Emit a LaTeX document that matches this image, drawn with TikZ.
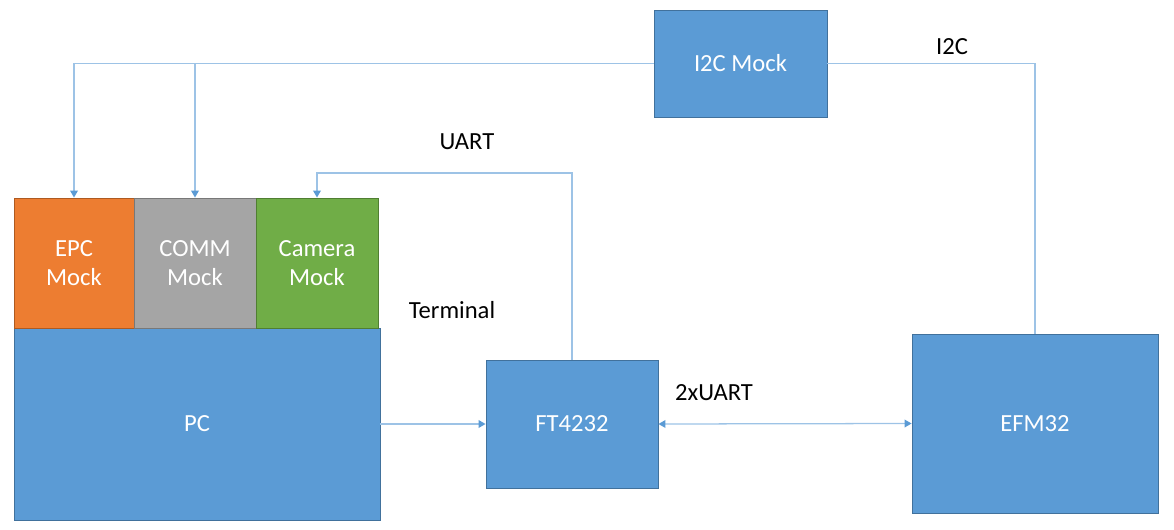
\documentclass[tikz,border=0pt]{standalone}
\usepackage{fontspec}
\setmainfont{Carlito}
\usetikzlibrary{arrows.meta}
\definecolor{boxblue}{HTML}{5B9BD5}
\definecolor{boxblueline}{HTML}{41719C}
\definecolor{boxorange}{HTML}{ED7D31}
\definecolor{boxorangeline}{HTML}{AE5A21}
\definecolor{boxgray}{HTML}{A5A5A5}
\definecolor{boxgrayline}{HTML}{787878}
\definecolor{boxgreen}{HTML}{70AD47}
\definecolor{boxgreenline}{HTML}{507E32}
\definecolor{wire}{HTML}{9DC3E6}

\begin{document}
\begin{tikzpicture}[x=0.025cm, y=-0.025cm,
  block/.style={rectangle, draw=boxblueline, fill=boxblue, line width=.6pt, text=white, align=center, inner sep=0pt, font=\fontsize{17.5}{20.6}\selectfont},
  conn/.style={draw=wire, line width=.9pt, arrows={-Triangle[length=5pt,width=5.5pt,color=boxblue]}},
  plain/.style={draw=wire, line width=.9pt},
  lbl/.style={text=black, font=\fontsize{17.5}{20.6}\selectfont}]
\useasboundingbox (0,0) rectangle (1174,530);
\node[block, minimum width=9.15cm, minimum height=4.8cm] (pc) at (197,424) {PC};
\node[block, fill=boxorange, draw=boxorangeline, minimum width=3cm, minimum height=3.25cm] (epc) at (74,263) {EPC\\Mock};
\node[block, fill=boxgray, draw=boxgrayline, minimum width=3.05cm, minimum height=3.25cm] (comm) at (195,263) {COMM\\Mock};
\node[block, fill=boxgreen, draw=boxgreenline, minimum width=3.05cm, minimum height=3.25cm] (cam) at (317,263) {Camera\\Mock};
\node[block, minimum width=4.325cm, minimum height=2.675cm] (i2c) at (740.5,63.5) {I2C Mock};
\node[block, minimum width=4.3cm, minimum height=3.2cm] (ft) at (572,424) {FT4232};
\node[block, minimum width=6.15cm, minimum height=4.475cm] (efm) at (1035,423.5) {EFM32};
\node[lbl] (uartlbl) at (467,142) {UART};
\node[lbl] (i2clbl) at (952,47) {I2C};
\node[lbl] (termlbl) at (452,310) {Terminal};
\node[lbl] (dualuartlbl) at (714,393) {2xUART};
\coordinate (uartbend) at (317,173);
\draw[conn] (i2c.west) -| (epc.north);
\draw[conn] (i2c.west -| comm.north) -- (comm.north);
\draw[plain] (i2c.east) -| (efm.north);
\draw[conn] (ft.north) |- (uartbend) -- (cam.north);
\draw[conn] (pc.east) -- (ft.west);
\draw[conn, arrows={Triangle[length=5pt,width=5.5pt,color=boxblue]-Triangle[length=5pt,width=5.5pt,color=boxblue]}] (ft.east) -- (efm.west);
\end{tikzpicture}
\end{document}
